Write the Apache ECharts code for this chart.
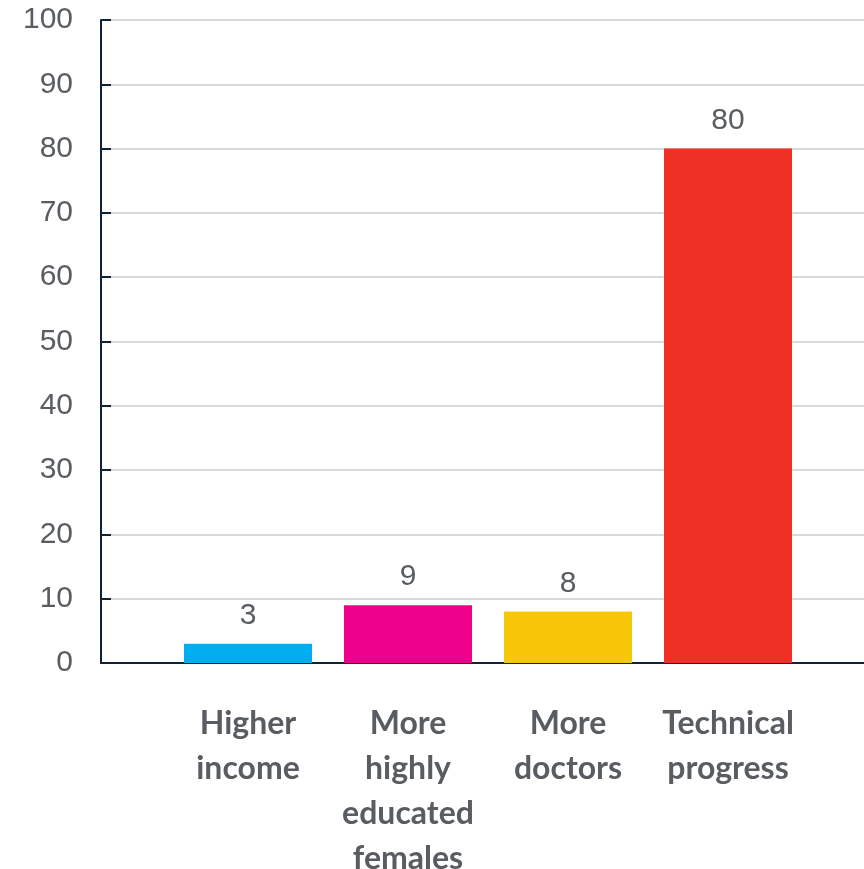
<!DOCTYPE html>
<html>
<head>
<meta charset="utf-8">
<script src="https://cdn.jsdelivr.net/npm/echarts@6/dist/echarts.min.js"></script>
<style>
  html, body { margin: 0; padding: 0; background: #ffffff; }
  #chart { width: 864px; height: 869px; }
</style>
</head>
<body>
<div id="chart"></div>
<script>
// Drivers and their share (percent)
const categories = ['Higher\nincome', 'More\nhighly\neducated\nfemales', 'More\ndoctors', 'Technical\nprogress'];
const values = [3, 9, 8, 80];
const barColors = ['#00AEEF', '#EC008C', '#F7C608', '#EE3124'];
const yTicks = { min: 0, max: 100, interval: 10 };

const textGrey = '#595d62';
const axisNavy = '#0f2236';

const chart = echarts.init(document.getElementById('chart'));

chart.setOption({
  animation: false,
  backgroundColor: '#ffffff',
  grid: [
    // frame: value axis, gridlines and baseline
    { left: 101, right: 0, top: 20, bottom: 206, outerBoundsMode: 'none', containLabel: false },
    // bars and category labels
    { left: 168, right: 56, top: 20, bottom: 206, outerBoundsMode: 'none', containLabel: false }
  ],
  xAxis: [
    {
      gridIndex: 0,
      type: 'category',
      data: [''],
      axisLine: { show: true, lineStyle: { color: axisNavy, width: 2 } },
      axisTick: { show: false },
      axisLabel: { show: false }
    },
    {
      gridIndex: 1,
      type: 'category',
      data: categories,
      axisLine: { show: false },
      axisTick: { show: false },
      axisLabel: {
        interval: 0,
        margin: 38,
        color: textGrey,
        fontFamily: 'Lato',
        fontWeight: 'bold',
        fontSize: 32,
        lineHeight: 45,
        align: 'center'
      }
    }
  ],
  yAxis: [
    {
      gridIndex: 0,
      type: 'value',
      min: yTicks.min,
      max: yTicks.max,
      interval: yTicks.interval,
      axisLine: { show: true, lineStyle: { color: axisNavy, width: 2 } },
      axisTick: { show: true, inside: true, length: 10, lineStyle: { color: axisNavy, width: 2 } },
      axisLabel: {
        margin: 28,
        color: textGrey,
        fontFamily: 'Liberation Sans',
        fontSize: 30
      },
      splitLine: { show: true, lineStyle: { color: '#d9d9d9', width: 2 } }
    },
    {
      gridIndex: 1,
      type: 'value',
      min: yTicks.min,
      max: yTicks.max,
      interval: yTicks.interval,
      axisLine: { show: false },
      axisTick: { show: false },
      axisLabel: { show: false },
      splitLine: { show: false }
    }
  ],
  series: [
    {
      type: 'bar',
      xAxisIndex: 1,
      yAxisIndex: 1,
      barWidth: 128,
      data: values.map((v, i) => ({ value: v, itemStyle: { color: barColors[i] } })),
      label: {
        show: true,
        position: 'top',
        distance: 13,
        color: textGrey,
        fontFamily: 'Liberation Sans',
        fontSize: 30
      }
    }
  ]
});
</script>
</body>
</html>
